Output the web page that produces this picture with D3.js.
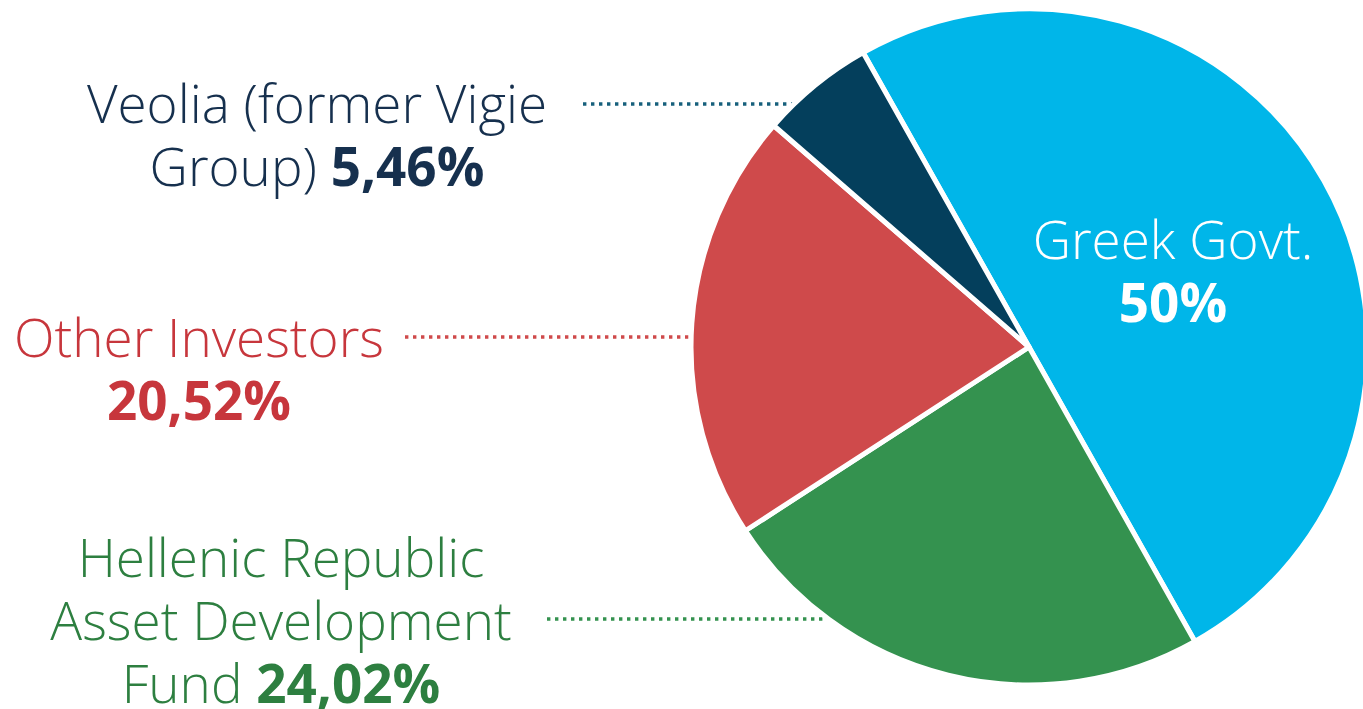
<!DOCTYPE html>
<html>
<head>
<meta charset="utf-8">
<script src="https://cdn.jsdelivr.net/npm/d3@7"></script>
<style>
  html, body { margin: 0; padding: 0; background: #fff; }
  svg { display: block; font-family: "Open Sans", sans-serif; }
</style>
</head>
<body>
<svg id="chart" width="1363" height="709"></svg>
<script>
// shareholders, in pie order (clockwise from the Greek Govt. slice)
var names = ["Greek Govt.", "Hellenic Republic Asset Development Fund", "Other Investors", "Veolia (former Vigie Group)"];
var shares = [50, 24.02, 20.52, 5.46];
var shareLabels = ["50%", "24,02%", "20,52%", "5,46%"];
var sliceColors = ["#00b6e9", "#34924f", "#cf4a4b", "#043f5c"];
var textColors = ["#ffffff", "#2d7f40", "#c7363c", "#16304e"];
var leaderColors = ["#ffffff", "#34924f", "#cf4a4b", "#17607c"];

var svg = d3.select("#chart");
var cx = 1029, cy = 347, r = 338;
var startDeg = -29.4;

var pie = d3.pie()
  .sort(null)
  .value(function(d){ return d; })
  .startAngle(startDeg * Math.PI / 180)
  .endAngle((startDeg + 360) * Math.PI / 180);
var arcs = pie(shares);
var arc = d3.arc().innerRadius(0).outerRadius(r);

// dotted leader lines (behind the pie)
var leaders = [
  null,
  {x1: 547, y: 619},
  {x1: 405, y: 337},
  {x1: 583, y: 104}
];
leaders.forEach(function(l, i){
  if(!l) return;
  svg.append("line")
    .attr("x1", l.x1).attr("x2", cx - 200)
    .attr("y1", l.y).attr("y2", l.y)
    .attr("stroke", leaderColors[i])
    .attr("stroke-width", 3.4)
    .attr("stroke-dasharray", "3.4 4.6");
});

var g = svg.append("g").attr("transform", "translate(" + cx + "," + cy + ")");
g.selectAll("path")
  .data(arcs)
  .enter().append("path")
    .attr("d", arc)
    .attr("fill", function(d, i){ return sliceColors[i]; })
    .attr("stroke", "#fff")
    .attr("stroke-width", 5)
    .attr("stroke-linejoin", "round");

// labels: lines of [light text, bold text]
var fs = 53, lh = 63;
var labels = [
  {x: 1173, y: 259, lines: [["Greek Govt.", ""], ["", shareLabels[0]]]},
  {x: 281, y: 577, lines: [["Hellenic Republic", ""], ["Asset Development", ""], ["Fund ", shareLabels[1]]]},
  {x: 199, y: 357, lines: [["Other Investors", ""], ["", shareLabels[2]]]},
  {x: 317, y: 123, lines: [["Veolia (former Vigie", ""], ["Group) ", shareLabels[3]]]}
];
labels.forEach(function(lab, i){
  var t = svg.append("text")
    .attr("text-anchor", "middle")
    .attr("font-size", fs)
    .attr("fill", textColors[i]);
  lab.lines.forEach(function(ln, j){
    var line = t.append("tspan").attr("x", lab.x).attr("y", lab.y + j * lh);
    if(ln[0]) line.append("tspan").attr("font-weight", 300).text(ln[0]);
    if(ln[1]) line.append("tspan").attr("font-weight", 700).text(ln[1]);
  });
});
</script>
</body>
</html>
